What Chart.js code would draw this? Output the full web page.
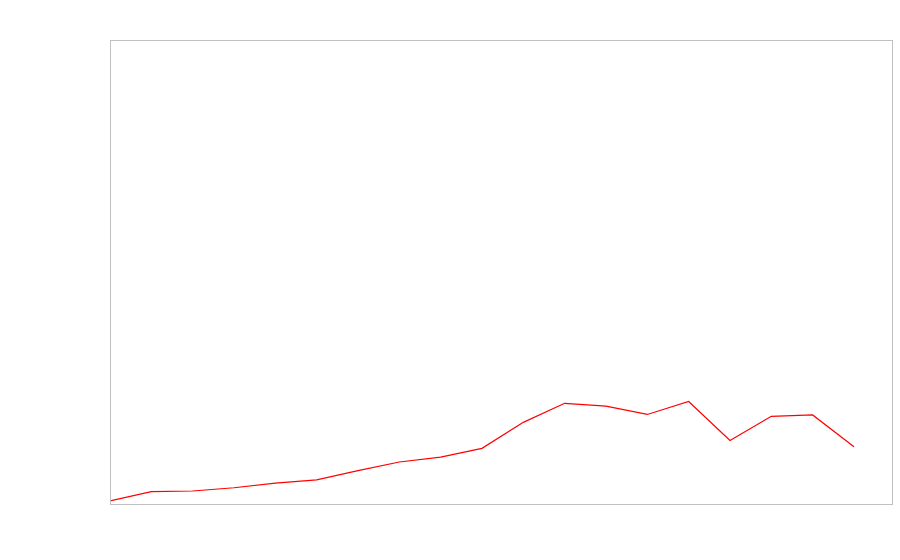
<!DOCTYPE html>
<html>
<head>
<meta charset="utf-8">
<script src="https://cdn.jsdelivr.net/npm/chart.js@4"></script>
<style>
  body { margin: 0; background: #fff; }
  #chart { display: block; }
</style>
</head>
<body>
<canvas id="chart" width="900" height="560"></canvas>
<script>
// values (no axis labels shown, so units are relative 0-100)
const xs = [0, 1, 2, 3, 4, 5, 6, 7, 8, 9, 10, 11, 12, 13, 14, 15, 16, 17, 18];
const values = [0.65, 2.65, 2.8, 3.5, 4.5, 5.2, 7.2, 9.05, 10.1, 12.0, 17.6, 21.7, 21.1, 19.3, 22.1, 13.7, 18.9, 19.2, 12.35];

const frameBox = {
  id: 'frameBox',
  afterDraw(chart) {
    const { ctx, chartArea: a } = chart;
    ctx.save();
    ctx.strokeStyle = '#c0c0c0';
    ctx.lineWidth = 1;
    ctx.strokeRect(a.left + 0.5, a.top + 0.5, a.right - a.left, a.bottom - a.top);
    ctx.restore();
  }
};

new Chart(document.getElementById('chart'), {
  type: 'line',
  data: {
    datasets: [{
      data: xs.map((x, i) => ({ x: x, y: values[i] })),
      borderColor: '#ff0000',
      borderWidth: 1.2,
      pointRadius: 0,
      tension: 0,
      fill: false
    }]
  },
  options: {
    responsive: false,
    animation: false,
    layout: { padding: { left: 110, top: 40, right: 8, bottom: 56 } },
    scales: {
      x: { type: 'linear', min: 0, max: 18.92, display: false },
      y: { min: 0, max: 100, display: false }
    },
    plugins: {
      legend: { display: false },
      tooltip: { enabled: false }
    }
  },
  plugins: [frameBox]
});
</script>
</body>
</html>
